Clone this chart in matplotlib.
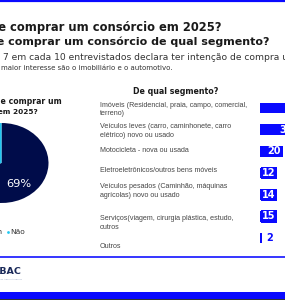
import numpy as np
import matplotlib
matplotlib.use("Agg")
import matplotlib.pyplot as plt

# dados
pie_labels = ["Sim", "Não"]
pie_values = [69, 31]
pie_colors = ["#000c4a", "#1fc7f2"]

segmentos = [
    "Imóveis (Residencial, praia, campo, comercial,\nterreno)",
    "Veículos leves (carro, caminhonete, carro\nelétrico) novo ou usado",
    "Motocicleta - nova ou usada",
    "Eletroeletrônicos/outros bens móveis",
    "Veículos pesados (Caminhão, máquinas\nagrícolas) novo ou usado",
    "Serviços(viagem, cirurgia plástica, estudo,\noutros",
    "Outros",
]
seg_values = [38, 30, 20, 12, 14, 15, 2]

W, H = 285, 300
BLUE = "#0a0aff"
PX = 0.72  # px -> pt a 100 dpi

fig = plt.figure(figsize=(W / 100, H / 100), dpi=100)
fig.patch.set_facecolor("white")

ax = fig.add_axes([0, 0, 1, 1])
ax.set_xlim(0, W)
ax.set_ylim(H, 0)
ax.axis("off")

# faixas azuis
ax.axhline(1, color=BLUE, lw=2.2 * PX)
ax.axhline(256.5, color=BLUE, lw=1.6 * PX)
ax.axhspan(291.5, 298.5, color=BLUE, lw=0)
ax.axhspan(298.5, 300, color="#333333", lw=0)

# títulos
ax.text(221, 27, "Você pretende comprar um consórcio em 2025?", ha="right", va="center",
        fontsize=8.3, fontweight="bold", color="#1a1a1a")
ax.text(270, 42, "Se pretende comprar um consórcio de qual segmento?", ha="right", va="center",
        fontsize=8.0, fontweight="bold", color="#1a1a1a")
ax.text(3, 57, "7 em cada 10 entrevistados declara ter intenção de compra um consórcio em 2025",
        ha="left", va="center", fontsize=6.6, color="#333333")
ax.text(1, 67.5, "maior interesse são o imobiliário e o automotivo.",
        ha="left", va="center", fontsize=5.0, color="#333333")

# pizza
ax.text(62, 101, "Você pretende comprar um", ha="right", va="center",
        fontsize=5.6, fontweight="bold", color="#1a1a1a")
ax.text(38, 112, "consórcio em 2025?", ha="right", va="center",
        fontsize=5.3, fontweight="bold", color="#1a1a1a")

cx, cy, rx, ry = 1.5, 163, 47, 40
ax_pie = fig.add_axes([(cx - rx) / W, 1 - (cy + ry) / H, 2 * rx / W, 2 * ry / H])
ax_pie.pie(pie_values, colors=pie_colors, startangle=90, counterclock=False,
           radius=1, wedgeprops=dict(linewidth=0))
ax_pie.set_aspect("auto")
ax_pie.set_xlim(-1, 1)
ax_pie.set_ylim(-1, 1)
ax_pie.axis("off")
ax_pie.text(19, 184, f"{pie_values[0]}%", ha="center", va="center", transform=ax.transData,
            fontsize=8.2, color="white", clip_on=False, zorder=5)

# legenda
ax.text(3, 232, pie_labels[0], ha="right", va="center", fontsize=5.4, color="#333333")
ax.scatter([8], [232], s=4, color=pie_colors[1], lw=0)
ax.text(10, 232, pie_labels[1], ha="left", va="center", fontsize=5.4, color="#333333")

# logo
ax.text(22, 272, "ABAC", ha="right", va="center", fontsize=6.8, fontweight="bold", color="#1b2a5a")
ax.text(22, 279.5, "Associação Brasileira de Administradoras", ha="right", va="center",
        fontsize=1.6, color="#9aa8c4")

# segmentos
ax.text(176, 92, "De qual segmento?", ha="center", va="center",
        fontsize=5.7, fontweight="bold", color="#1a1a1a")
label_y = [109.5, 131, 151, 171, 191, 223, 247]
for txt, y in zip(segmentos, label_y):
    ax.text(100, y, txt, ha="left", va="center", fontsize=5.1, color="#454545",
            family="Liberation Sans", linespacing=1.3)

n = len(seg_values)
row = 21.67
top = 108 - row / 2
ax_bar = fig.add_axes([260 / W, 1 - (top + n * row) / H, 25 / W, n * row / H])
ypos = np.arange(n)
ax_bar.barh(ypos, seg_values, height=0.5, color=BLUE)
ax_bar.set_ylim(n - 0.5, -0.5)
ax_bar.set_xlim(0, 25 / 1.13)
ax_bar.axis("off")
for y, v in zip(ypos, seg_values):
    if v >= 18:
        ax_bar.annotate(str(v), (v, y), xytext=(-1.0, 0), textcoords="offset points",
                        ha="right", va="center", fontsize=7.0, fontweight="bold", color="white",
                        annotation_clip=False)
    elif v >= 5:
        ax_bar.annotate(str(v), (0, y), xytext=(1.6, 0), textcoords="offset points",
                        ha="left", va="center", fontsize=7.0, fontweight="bold", color="white",
                        bbox=dict(boxstyle="square,pad=0.12", fc=BLUE, ec="none"),
                        annotation_clip=False)
    else:
        ax_bar.annotate(str(v), (v, y), xytext=(3, 0), textcoords="offset points",
                        ha="left", va="center", fontsize=7.0, fontweight="bold", color=BLUE,
                        annotation_clip=False)

fig.savefig("out.png", dpi=100)
